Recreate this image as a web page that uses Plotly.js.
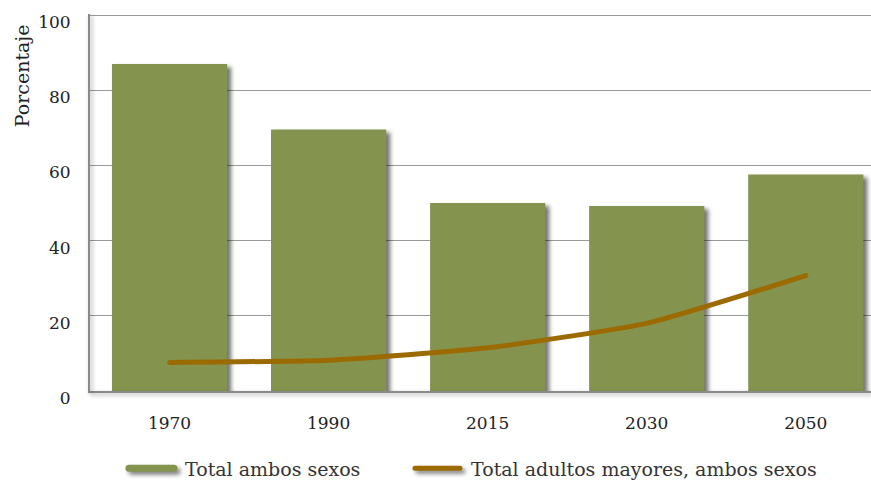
<!DOCTYPE html>
<html>
<head>
<meta charset="utf-8">
<script src="https://cdn.plot.ly/plotly-3.0.1.min.js"></script>
<style>
  html, body { margin: 0; padding: 0; background: #fff; }
  #chart { width: 871px; height: 481px; }
  /* soft drop shadows under the bars and the legend swatches */
  #chart .trace.bars path { filter: drop-shadow(4px 3px 2px rgba(0,0,0,0.55)); }
  #chart .legendlines path { filter: drop-shadow(3px 3px 2px rgba(0,0,0,0.5)); stroke-linecap: round; }
  #chart .scatterlayer .js-line { stroke-linecap: round; }
  #chart .xlines-above, #chart .ylines-above { filter: drop-shadow(2px 2px 2px rgba(0,0,0,0.35)); }
</style>
</head>
<body>
<div id="chart"></div>
<script>
// Share of dependants by year
const years = ['1970', '1990', '2015', '2030', '2050'];
const totalAmbosSexos = [87, 69.6, 50, 49.2, 57.6];
const totalAdultosMayores = [7.6, 8.2, 11.5, 18, 30.7];
const yTicks = [0, 20, 40, 60, 80, 100];

const barColor = '#84944f';
const lineColor = '#9b6a00';
const serif = '"DejaVu Serif", "Liberation Serif", serif';

const traces = [
  {
    type: 'bar',
    x: years,
    y: totalAmbosSexos,
    marker: { color: barColor },
    showlegend: false,
    hoverinfo: 'x+y'
  },
  {
    // legend entry for the bars, drawn as a thick line swatch
    type: 'scatter',
    mode: 'lines',
    x: [null],
    y: [null],
    name: '\u00a0Total ambos sexos',
    legend: 'legend',
    line: { color: barColor, width: 7 },
    hoverinfo: 'skip'
  },
  {
    type: 'scatter',
    mode: 'lines',
    x: years,
    y: totalAdultosMayores,
    name: '\u00a0Total adultos mayores, ambos sexos',
    legend: 'legend2',
    line: { color: lineColor, width: 5, shape: 'spline', smoothing: 0.5 }
  }
];

const legendStyle = {
  orientation: 'h',
  xanchor: 'left',
  y: -0.205,
  yanchor: 'middle',
  itemwidth: 45,
  font: { family: serif, size: 19, color: '#333' },
  bgcolor: 'rgba(0,0,0,0)'
};

const layout = {
  width: 871,
  height: 481,
  margin: { l: 90, r: 0, t: 14, b: 90, autoexpand: false },
  paper_bgcolor: '#fff',
  plot_bgcolor: '#fff',
  bargap: 0.276,
  font: { family: serif, color: '#222', size: 17 },
  xaxis: {
    type: 'category',
    range: [-0.5, 4.41],
    showgrid: false,
    showline: true,
    linecolor: '#8a8a8a',
    linewidth: 2,
    ticks: '',
    ticklabelstandoff: 16,
    tickfont: { family: serif, size: 17, color: '#222' },
    zeroline: false,
    automargin: false
  },
  yaxis: {
    range: [0, 100.3],
    tickvals: yTicks,
    ticktext: yTicks.map(String),
    showgrid: true,
    gridcolor: '#9a9a9a',
    gridwidth: 1,
    showline: true,
    linecolor: '#8a8a8a',
    linewidth: 2,
    ticks: '',
    ticklabelstandoff: 14,
    ticklabelshift: 7,
    tickfont: { family: serif, size: 17, color: '#222' },
    zeroline: false,
    automargin: false
  },
  legend: Object.assign({}, legendStyle, { x: 0.0435 }),
  legend2: Object.assign({}, legendStyle, { x: 0.4097 }),
  annotations: [
    {
      text: 'Porcentaje',
      xref: 'paper',
      yref: 'paper',
      x: -0.087,
      y: 0.835,
      xanchor: 'center',
      yanchor: 'middle',
      textangle: -90,
      showarrow: false,
      font: { family: serif, size: 19, color: '#222' }
    }
  ]
};

Plotly.newPlot('chart', traces, layout, { displayModeBar: false, staticPlot: true });
</script>
</body>
</html>
